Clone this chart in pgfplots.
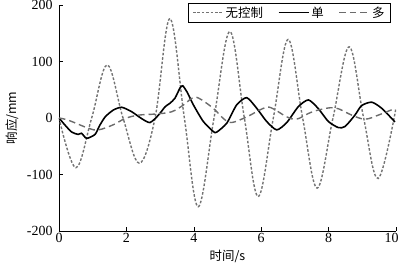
\documentclass[border=0pt]{standalone}
\usepackage{pgfplots}
\pgfplotsset{compat=1.18}
\usepackage{fontspec}
\setmainfont{Liberation Serif}
\newfontfamily\cjk{Noto Sans CJK SC}
\definecolor{ugray}{gray}{0.45}
\definecolor{mgray}{gray}{0.42}
\begin{document}
\begin{tikzpicture}
\begin{axis}[
  name=ax,
  scale only axis,
  width=337bp, height=226bp,
  xmin=0, xmax=10, ymin=-200, ymax=200,
  xtick={0,2,...,10}, ytick={-200,-100,0,100,200},
  xticklabels={0,2,4,6,8,10\hspace*{9bp}},
  axis lines=left,
  axis line style={-, line width=0.6pt},
  tick align=inside,
  major tick length=4bp,
  tick style={line width=0.6pt, black},
  /pgf/number format/assume math mode=true,
  ticklabel style={font=\fontsize{14}{16}\selectfont},
  xticklabel style={yshift=1bp},
  yticklabel style={xshift=-3bp},
  xlabel={\cjk\fontsize{12.5}{14}\selectfont 时间/s},
  ylabel={\cjk\fontsize{12.5}{14}\selectfont 响应/mm},
  xlabel style={yshift=0bp},
  ylabel style={yshift=1bp},
  legend style={at={(0.985,1.01)}, anchor=north east, draw=black, line width=0.9pt,
    font=\cjk\fontsize{12.5}{15}\selectfont, legend columns=3,
    /tikz/every even column/.append style={column sep=13bp},
    inner ysep=1.5bp, inner xsep=4bp},
  legend cell align=left,
  legend image code/.code={\draw[#1, line width=1.3pt] (0bp,0bp) -- (30bp,0bp);},
]
\addplot[ugray, line width=1.4pt, dash pattern=on 2.6bp off 1.8bp, smooth, tension=0.6] coordinates {
(0,0) (0.5,-88) (0.97,0) (1.43,94) (1.9,0) (2.38,-80) (2.85,0) (3.29,176)
(3.72,0) (4.13,-157) (4.6,0) (5.07,153) (5.5,0) (5.91,-139) (6.36,0) (6.80,139)
(7.23,0) (7.66,-124) (8.13,0) (8.61,126) (9.04,0) (9.47,-107) (10,18)};
\addlegendentry{无控制}
\addplot[black, line width=1.6pt, smooth, tension=0.4] coordinates {
(0,0) (0.2,-14) (0.38,-25) (0.57,-29) (0.67,-27) (0.82,-36) (1.07,-29) (1.2,-14)
(1.37,2) (1.61,14) (1.86,19) (2.16,11) (2.45,-1) (2.70,-8) (2.95,5) (3.15,20)
(3.29,26) (3.44,35) (3.59,53) (3.67,57) (3.8,46) (3.99,23) (4.28,-6) (4.58,-24)
(4.68,-25) (4.98,-9) (5.27,23) (5.57,36) (5.87,17) (6.16,-6) (6.46,-21) (6.76,-8)
(7.10,20) (7.40,32) (7.69,17) (7.99,-6) (8.29,-17) (8.49,-15) (8.78,5) (8.98,22)
(9.28,28) (9.58,17) (9.97,-7)};
\addlegendentry{单}
\addplot[mgray, line width=1.4pt, dash pattern=on 6.5bp off 4bp, smooth, tension=0.6] coordinates {
(0,0) (0.28,-4) (0.87,-18) (1.17,-21) (1.61,-12) (1.96,-1) (2.35,5) (2.85,7)
(3.34,11) (3.69,23) (3.95,35) (4.15,35) (4.58,17) (4.88,-1) (5.12,-8) (5.57,2)
(6.06,17) (6.3,18) (6.76,2) (7.05,-2) (7.4,8) (7.69,14) (8.19,18) (8.69,5)
(9.08,-2) (9.47,5) (9.97,17)};
\addlegendentry{多}
\end{axis}
\pgfresetboundingbox
\path[use as bounding box] ([xshift=-59bp,yshift=-33bp]ax.south west) rectangle ([xshift=4bp,yshift=5bp]ax.north east);
\end{tikzpicture}
\end{document}
